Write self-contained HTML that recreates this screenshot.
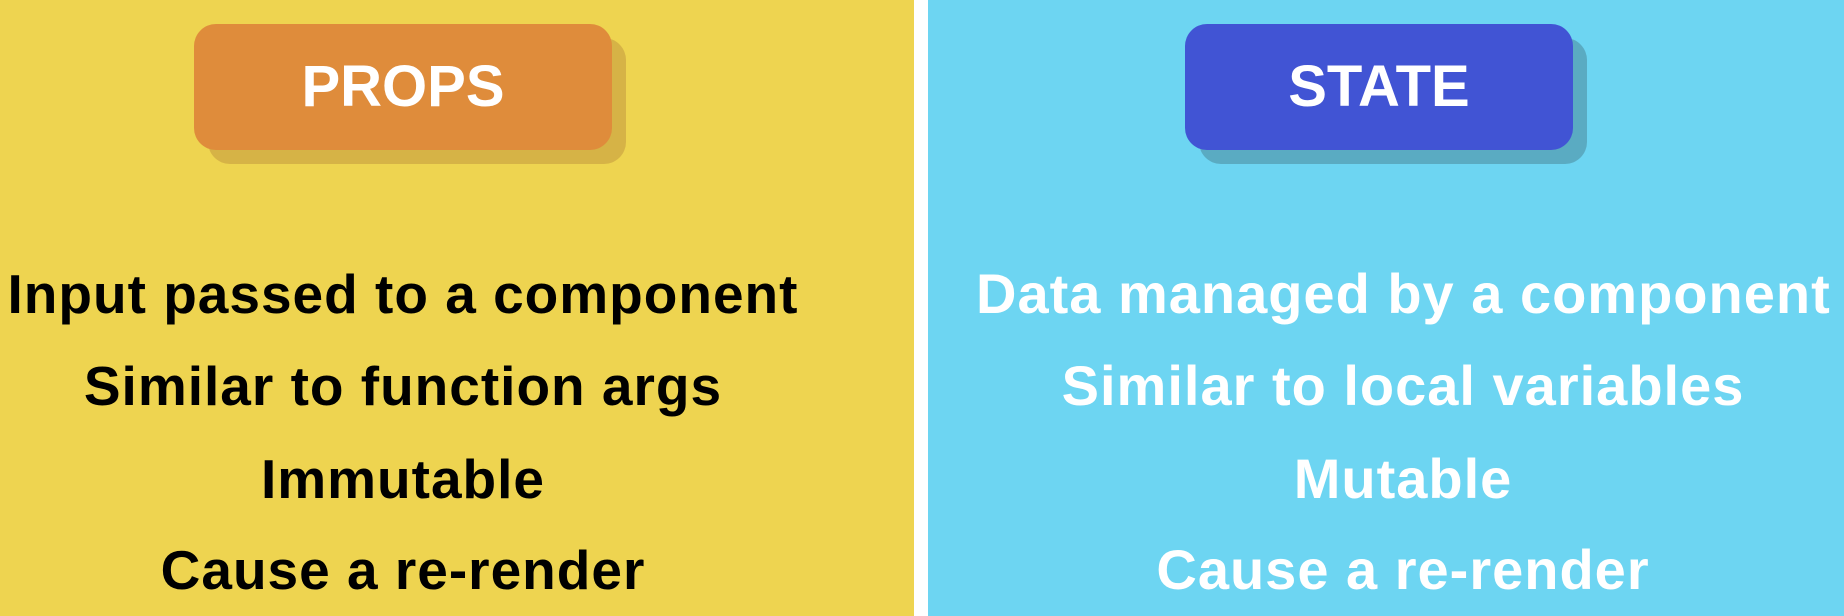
<!DOCTYPE html>
<html><head><style>
body{margin:0;width:1844px;height:616px;overflow:hidden;font-family:"Liberation Sans",sans-serif;font-weight:bold;position:relative;background:#fff}
.p{position:absolute;top:0;height:616px}
.box,.sh{position:absolute;border-radius:22px}
.t{position:absolute;width:100%;text-align:center;font-size:55px;letter-spacing:1px;line-height:60px;white-space:nowrap}
</style></head><body>
<div class="p" style="left:0;width:914px;background:#EED450"></div>
<div class="p" style="left:928px;width:916px;background:#6DD5F2"></div>

<div class="sh" style="left:208px;top:38px;width:418px;height:126px;background:#D6B346"></div>
<div class="box" style="left:194px;top:24px;width:418px;height:126px;background:#DF8C3B"></div>
<div style="position:absolute;left:194px;top:24px;width:418px;height:126px;line-height:126px;text-align:center;color:#fff;font-size:58px">PROPS</div>

<div class="sh" style="left:1199px;top:38px;width:388px;height:126px;background:#5AABC2"></div>
<div class="box" style="left:1185px;top:24px;width:388px;height:126px;background:#4154D4"></div>
<div style="position:absolute;left:1185px;top:24px;width:388px;height:126px;line-height:126px;text-align:center;color:#fff;font-size:58px">STATE</div>

<div style="position:absolute;left:0;width:806px;top:0;color:#000">
<div class="t" style="top:264px">Input passed to a component</div>
<div class="t" style="top:356px">Similar to function args</div>
<div class="t" style="top:449px">Immutable</div>
<div class="t" style="top:540px">Cause a re-render</div>
</div>
<div style="position:absolute;left:976px;width:854px;top:0;color:#fff">
<div class="t" style="top:264px;font-size:56px">Data managed by a component</div>
<div class="t" style="top:356px;font-size:56px">Similar to local variables</div>
<div class="t" style="top:449px;font-size:56px">Mutable</div>
<div class="t" style="top:540px;font-size:56px">Cause a re-render</div>
</div>
</body></html>
